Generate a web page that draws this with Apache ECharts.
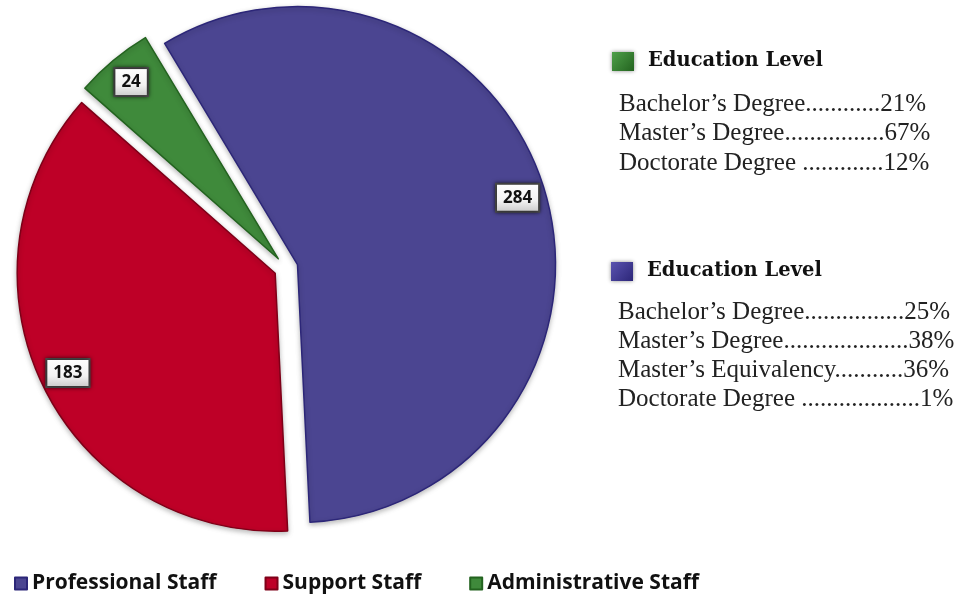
<!DOCTYPE html>
<html>
<head>
<meta charset="utf-8">
<script src="https://cdn.jsdelivr.net/npm/echarts@6/dist/echarts.min.js"></script>
<style>
  html, body { margin: 0; padding: 0; background: #ffffff; }
  #main { width: 973px; height: 598px; }
</style>
</head>
<body>
<div id="main"></div>
<script>
// Staff headcount by group
const staffCategories = ['Professional Staff', 'Support Staff', 'Administrative Staff'];
const staffCounts = [284, 183, 24];
const staffColors = ['#4b4591', '#be0027', '#3f8a3b'];
const staffBorders = ['#2c2678', '#7e0018', '#23631f'];

// Education level breakdowns
const adminEducationLevels = ['Bachelor\u2019s Degree', 'Master\u2019s Degree', 'Doctorate Degree '];
const adminEducationShares = ['21%', '67%', '12%'];
const proEducationLevels = ['Bachelor\u2019s Degree', 'Master\u2019s Degree', 'Master\u2019s Equivalency', 'Doctorate Degree '];
const proEducationShares = ['25%', '38%', '36%', '1%'];

const bodyFont = '25px "Liberation Serif"';
const measureCtx = document.createElement('canvas').getContext('2d');
function textWidth(str, font) {
  measureCtx.font = font;
  return measureCtx.measureText(str).width;
}
// Build a dotted leader line that ends near a given right edge
function leaderLine(label, value, maxWidth) {
  const dotW = textWidth('.', bodyFont);
  const free = maxWidth - textWidth(label, bodyFont) - textWidth(value, bodyFont);
  const n = Math.max(3, Math.floor(free / dotW));
  return label + '.'.repeat(n) + value;
}

function educationBlock(x, headerY, firstLineY, lineStep, rightEdge, iconColorTop, iconColorBottom, levels, shares) {
  const els = [];
  els.push({
    type: 'rect',
    shape: { x: x - 5, y: headerY - 9, width: 22, height: 19 },
    style: {
      fill: new echarts.graphic.LinearGradient(0, 0, 1, 1, [
        { offset: 0, color: iconColorTop },
        { offset: 1, color: iconColorBottom }
      ]),
      shadowBlur: 4,
      shadowColor: 'rgba(0,0,0,0.45)'
    }
  });
  els.push({
    type: 'text',
    x: x + 31,
    y: headerY,
    style: {
      text: 'Education Level',
      font: 'bold 19.5px "DejaVu Serif"',
      fill: '#111111',
      verticalAlign: 'middle'
    }
  });
  levels.forEach(function (lvl, i) {
    els.push({
      type: 'text',
      x: x + 2,
      y: firstLineY + i * lineStep,
      style: {
        text: leaderLine(lvl, shares[i], rightEdge - x - 2),
        font: bodyFont,
        fill: '#222222',
        verticalAlign: 'middle'
      }
    });
  });
  return els;
}

const chart = echarts.init(document.getElementById('main'));

const pieData = staffCategories.map(function (name, i) {
  return {
    name: name,
    value: staffCounts[i],
    selected: true,
    itemStyle: { color: staffColors[i], borderColor: staffBorders[i] }
  };
});
const labelData = staffCategories.map(function (name, i) {
  return { name: name, value: staffCounts[i], selected: true };
});

const labelBoxFill = new echarts.graphic.LinearGradient(0, 0, 0, 1, [
  { offset: 0, color: '#ffffff' },
  { offset: 0.6, color: '#f2f2f2' },
  { offset: 1, color: '#c8c8c8' }
]);

const pieCenter = [286, 268];
const pieRadius = 258;

chart.setOption({
  animation: false,
  backgroundColor: '#ffffff',
  legend: {
    left: 14,
    top: 573,
    padding: 0,
    itemWidth: 12,
    itemHeight: 12,
    itemGap: 48,
    icon: 'rect',
    selectedMode: false,
    data: staffCategories,
    textStyle: {
      fontFamily: '"Open Sans"',
      fontWeight: 'bold',
      fontSize: 21,
      color: '#111111'
    }
  },
  series: [
    {
      type: 'pie',
      center: pieCenter,
      radius: [0, pieRadius],
      startAngle: 121,
      clockwise: true,
      selectedMode: 'multiple',
      selectedOffset: 12,
      avoidLabelOverlap: false,
      label: { show: false },
      labelLine: { show: false },
      emphasis: { disabled: true },
      itemStyle: {
        borderWidth: 1.5,
        shadowBlur: 5,
        shadowOffsetY: 2,
        shadowColor: 'rgba(0,0,0,0.25)'
      },
      data: pieData
    },
    {
      // transparent ring whose inside labels sit near the outer rim
      type: 'pie',
      center: pieCenter,
      radius: [pieRadius - 62, pieRadius],
      startAngle: 121,
      clockwise: true,
      silent: true,
      legendHoverLink: false,
      selectedMode: 'multiple',
      selectedOffset: 12,
      avoidLabelOverlap: false,
      itemStyle: { color: 'rgba(0,0,0,0)' },
      labelLine: { show: false },
      emphasis: { disabled: true },
      label: {
        show: true,
        position: 'inside',
        formatter: '{c}',
        offset: [0, 3],
        color: '#111111',
        fontFamily: '"Open Sans"',
        fontWeight: 'bold',
        fontSize: 17,
        lineHeight: 20,
        padding: [3, 6, 3, 6],
        backgroundColor: labelBoxFill,
        borderColor: '#4a4a4a',
        borderWidth: 2,
        shadowBlur: 4,
        shadowColor: 'rgba(0,0,0,0.6)'
      },
      data: labelData
    }
  ],
  graphic: {
    elements: []
      .concat(educationBlock(617, 61, 104, 29.5, 931, '#4fa04a', '#23631f', adminEducationLevels, adminEducationShares))
      .concat(educationBlock(616, 271, 312, 29.3, 955, '#5a53b0', '#2c2678', proEducationLevels, proEducationShares))
  }
});
</script>
</body>
</html>
